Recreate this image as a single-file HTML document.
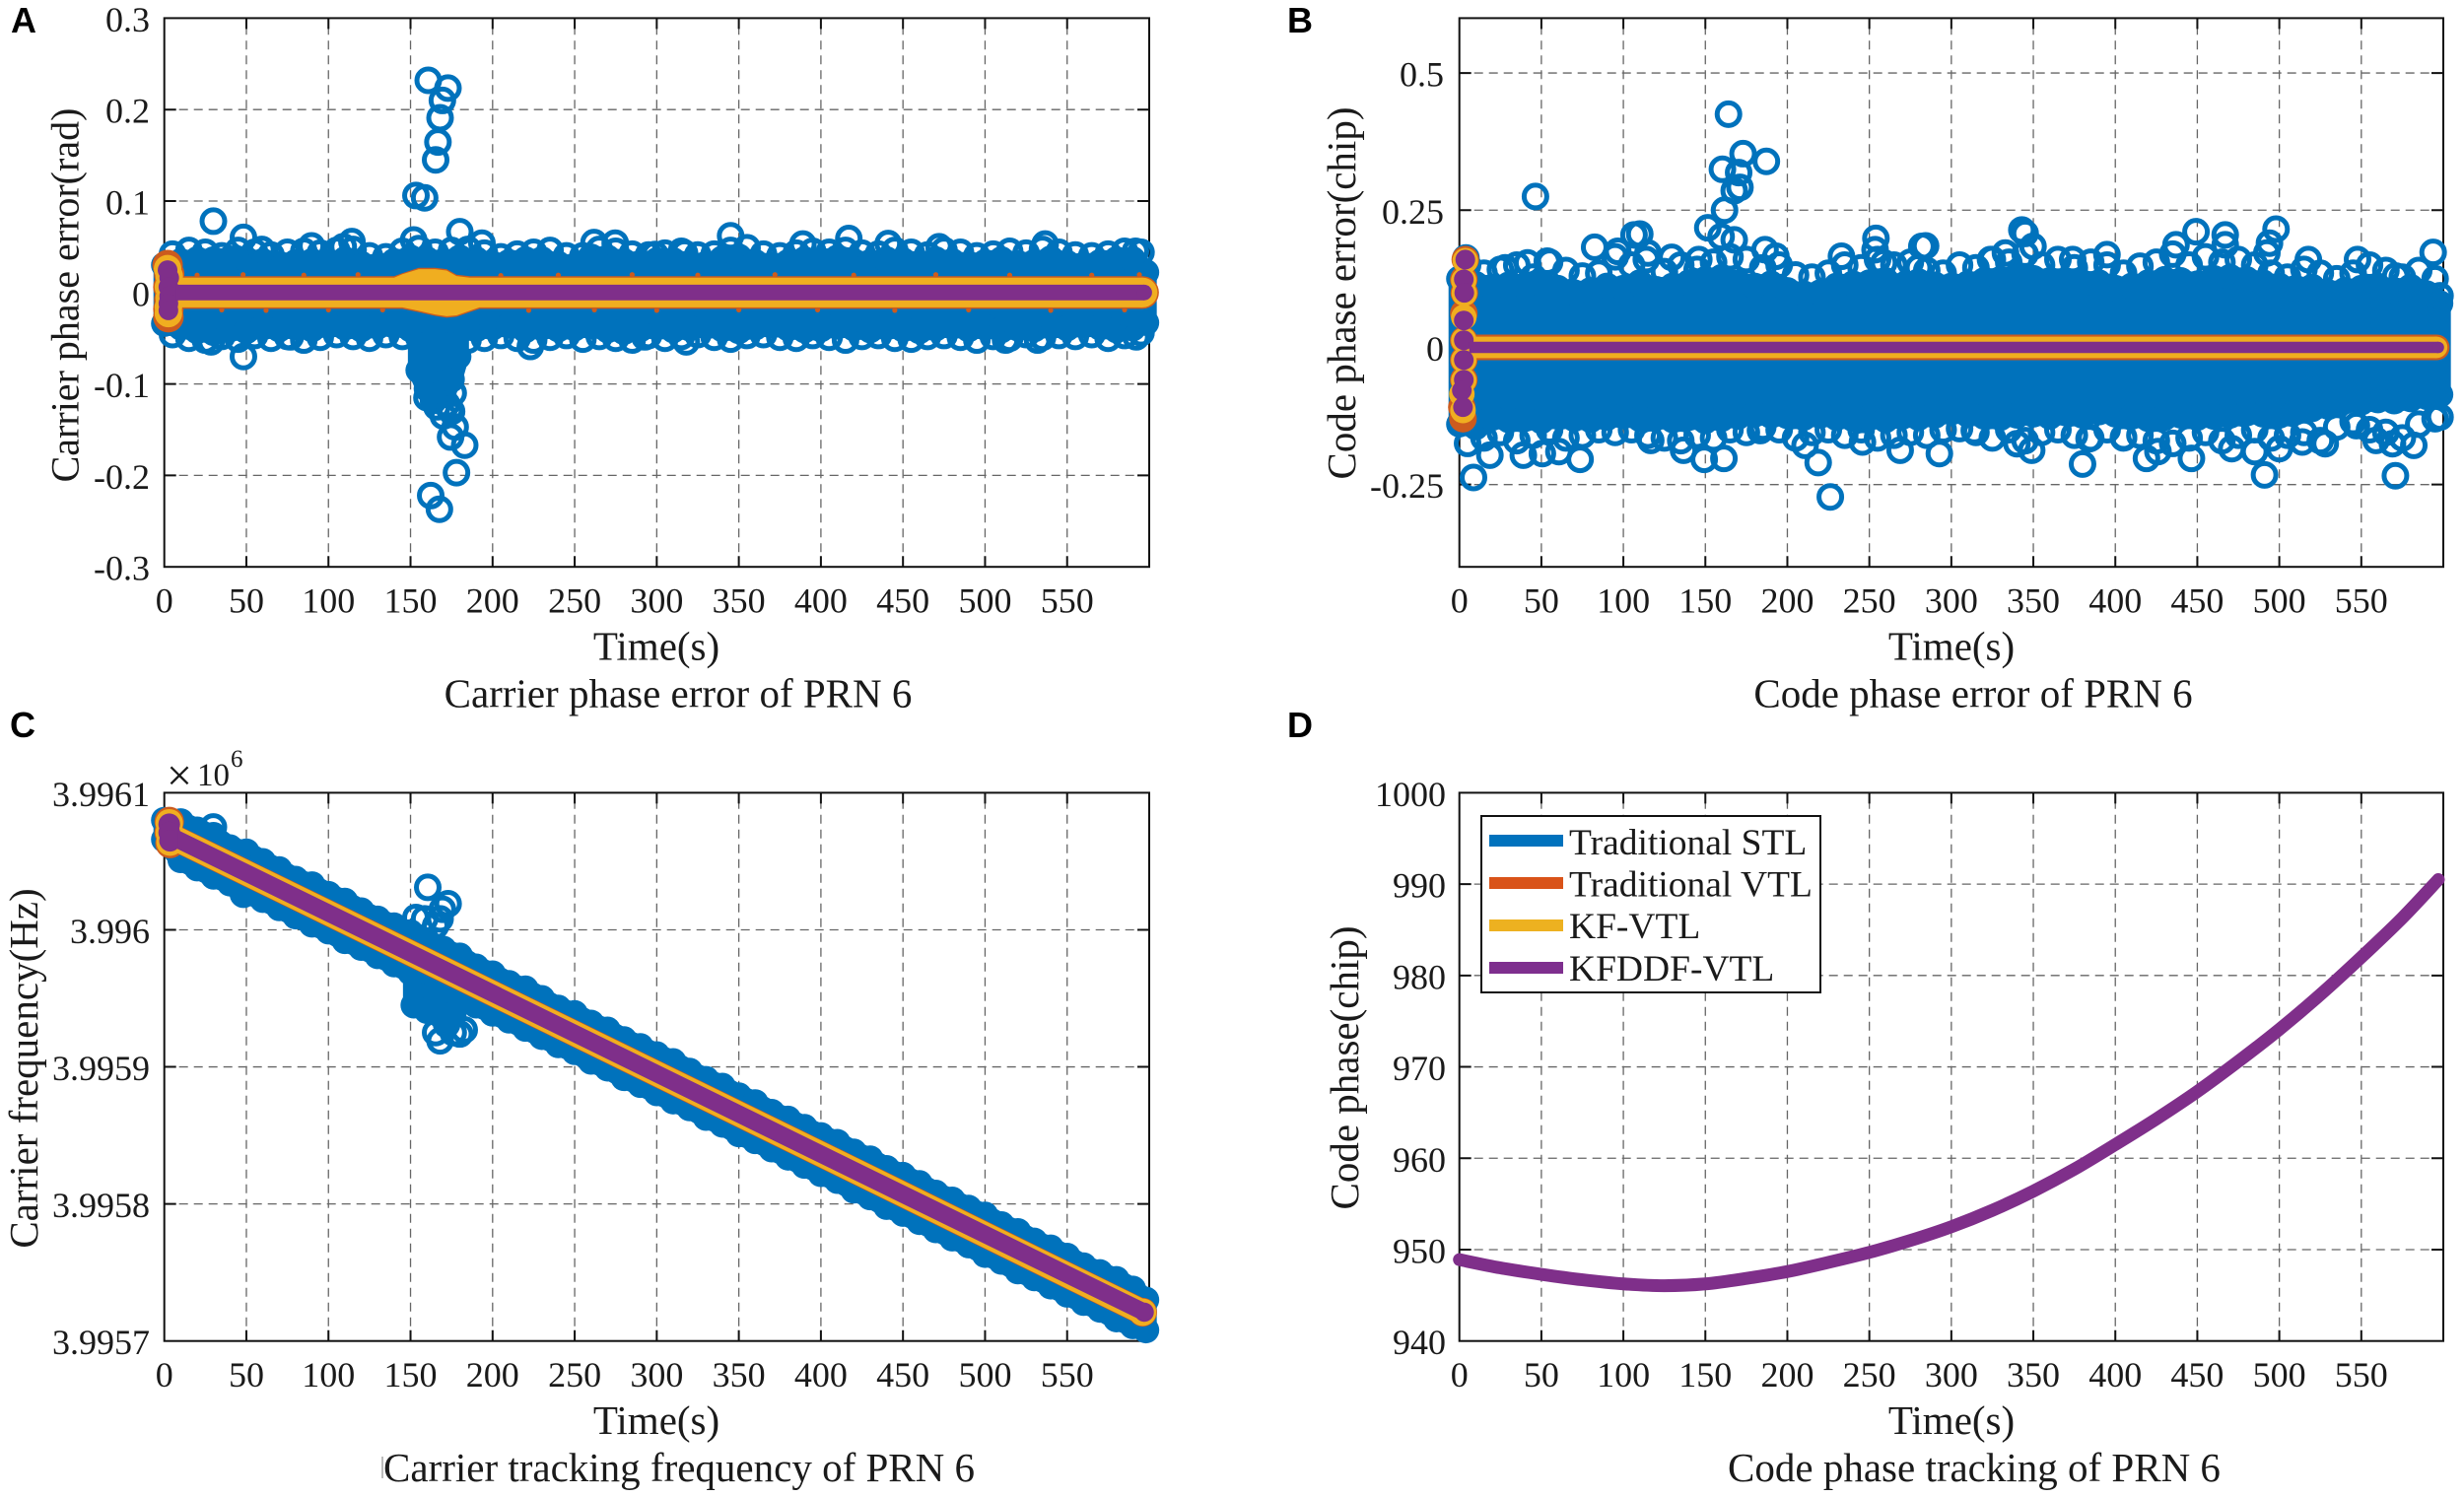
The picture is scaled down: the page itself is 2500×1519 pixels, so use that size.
<!DOCTYPE html>
<html lang="en">
<head>
<meta charset="utf-8">
<title>PRN 6 tracking results</title>
<style>
html,body{margin:0;padding:0;background:#fff;}
svg{display:block;}
text{font-family:"Liberation Serif",serif;fill:#1a1a1a;}
.tick{font-size:36px;}
.label{font-size:40px;}
.cap{font-size:41px;}
.letter{font-family:"Liberation Sans",sans-serif;font-weight:bold;font-size:36px;fill:#000;}
.legend-text{font-size:37.5px;}
</style>
</head>
<body>
<svg id="figure" xmlns="http://www.w3.org/2000/svg" width="2500" height="1519" viewBox="0 0 2500 1519">
  <rect x="0" y="0" width="2500" height="1519" fill="#ffffff"/>

  <text class="letter" x="11" y="33">A</text>
  <text class="letter" x="1306" y="33">B</text>
  <text class="letter" x="10" y="748">C</text>
  <text class="letter" x="1306" y="748">D</text>

  <g id="panel-a"></g>
  <g id="panel-b"></g>
  <g id="panel-c"></g>
  <g id="panel-d"></g>

  <text class="label" text-anchor="middle" transform="translate(79.5 299.5) rotate(-90)">Carrier phase error(rad)</text>
  <text class="cap" text-anchor="middle" x="666" y="669.5">Time(s)</text>
  <text class="cap" text-anchor="middle" x="688" y="717.5">Carrier phase error of PRN 6</text>

  <text class="label" text-anchor="middle" style="font-size:41px" transform="translate(1375 297.5) rotate(-90)">Code phase error(chip)</text>
  <text class="cap" text-anchor="middle" x="1980" y="669.5">Time(s)</text>
  <text class="cap" text-anchor="middle" x="2002" y="717.5">Code phase error of PRN 6</text>

  <text class="label" text-anchor="middle" style="font-size:41px" transform="translate(38 1084) rotate(-90)">Carrier frequency(Hz)</text>
  <text class="cap" text-anchor="middle" x="666" y="1455">Time(s)</text>
  <text class="cap" text-anchor="middle" x="689" y="1503">Carrier tracking frequency of PRN 6</text>
  <line x1="388" y1="1478" x2="388" y2="1500" stroke="#777" stroke-width="1"/>

  <text class="label" text-anchor="middle" style="font-size:41px" transform="translate(1378 1083.5) rotate(-90)">Code phase(chip)</text>
  <text class="cap" text-anchor="middle" x="1980" y="1455">Time(s)</text>
  <text class="cap" text-anchor="middle" x="2003" y="1503">Code phase tracking of PRN 6</text>

  <g>
    <text x="169" y="802" style="font-size:46px">×</text>
    <text x="200" y="797" style="font-size:33px">10</text>
    <text x="234" y="778" style="font-size:25px">6</text>
  </g>

  <g id="legend">
    <rect x="1503" y="828" width="344" height="179" fill="#fff" stroke="#111" stroke-width="2"/>
    <rect x="1511" y="847" width="75" height="12" fill="#0072BD"/>
    <text class="legend-text" x="1592" y="867">Traditional STL</text>
    <rect x="1511" y="890" width="75" height="12" fill="#D95319"/>
    <text class="legend-text" x="1592" y="909.5">Traditional VTL</text>
    <rect x="1511" y="933" width="75" height="12" fill="#EDB120"/>
    <text class="legend-text" x="1592" y="952">KF-VTL</text>
    <rect x="1511" y="976" width="75" height="12" fill="#7E2F8E"/>
    <text class="legend-text" x="1592" y="995">KFDDF-VTL</text>
  </g>
</svg>

<script>
// ---------- shared axis data ----------
const xTicks = [0,50,100,150,200,250,300,350,400,450,500,550];
const yTicksA = [-0.3,-0.2,-0.1,0,0.1,0.2,0.3];
const yLabelsA = ['-0.3','-0.2','-0.1','0','0.1','0.2','0.3'];
const yTicksB = [-0.25,0,0.25,0.5];
const yLabelsB = ['-0.25','0','0.25','0.5'];
const yTicksC = [3995700,3995800,3995900,3996000,3996100];
const yLabelsC = ['3.9957','3.9958','3.9959','3.996','3.9961'];
const yTicksD = [940,950,960,970,980,990,1000];
const yLabelsD = ['940','950','960','970','980','990','1000'];

// sample instants (s) for the dense Traditional STL marker cloud
const stlTimes = [0,10,20,30,40,50,60,70,80,90,100,110,120,130,140,150,160,170,180,190,200,210,220,230,240,250,260,270,280,290,300,310,320,330,340,350,360,370,380,390,400,410,420,430,440,450,460,470,480,490,500,510,520,530,540,550,560,570,580,590,598];
// sample instants (s) for the open-ring fringe around the dense cloud
const fringeTimes = [5,15,25,35,45,55,65,75,85,95,105,115,125,135,145,155,165,175,185,195,205,215,225,235,245,255,265,275,285,295,305,315,325,335,345,355,365,375,385,395,405,415,425,435,445,455,465,475,485,495,505,515,525,535,545,555,565,575,585,595];

// ---------- panel A: carrier phase error (rad) ----------
const stlUpperA = [.030,.034,.036,.036,.037,.036,.034,.031,.033,.034,
  .033,.036,.031,.029,.034,.038,.036,.034,.038,.036,
  .031,.033,.036,.036,.031,.029,.039,.038,.034,.032,
  .035,.035,.032,.031,.037,.039,.033,.030,.033,.036,
  .035,.038,.034,.033,.036,.035,.032,.036,.034,.031,
  .033,.036,.032,.033,.037,.032,.030,.033,.036,.036,.022];
const stlLowerA = [-.034,-.038,-.042,-.044,-.040,-.042,-.038,-.040,-.038,-.040,
  -.036,-.038,-.040,-.037,-.036,-.040,-.042,-.044,-.042,-.040,
  -.038,-.036,-.041,-.038,-.040,-.039,-.037,-.041,-.043,-.040,
  -.038,-.041,-.039,-.037,-.040,-.042,-.038,-.036,-.039,-.041,
  -.040,-.037,-.039,-.041,-.038,-.040,-.042,-.039,-.037,-.040,
  -.038,-.041,-.039,-.040,-.037,-.039,-.036,-.038,-.041,-.039,-.033];
const fringeUpperA = [.042,.046,.044,.040,.046,.044,.041,.044,.045,.043,
  .046,.047,.040,.039,.045,.048,.044,.046,.047,.043,
  .039,.042,.044,.046,.040,.040,.047,.045,.042,.041,
  .043,.045,.041,.042,.046,.049,.042,.040,.043,.045,
  .044,.046,.043,.042,.046,.044,.041,.046,.044,.040,
  .042,.045,.043,.047,.044,.041,.040,.042,.045,.044];
const fringeLowerA = [-.046,-.050,-.052,-.048,-.051,-.047,-.050,-.048,-.052,-.049,
  -.046,-.048,-.050,-.046,-.048,-.049,-.050,-.050,-.052,-.050,
  -.047,-.050,-.052,-.049,-.047,-.051,-.048,-.050,-.052,-.047,
  -.050,-.048,-.046,-.049,-.051,-.047,-.046,-.049,-.050,-.047,
  -.049,-.052,-.048,-.047,-.050,-.051,-.048,-.047,-.049,-.052,
  -.048,-.050,-.046,-.049,-.047,-.048,-.046,-.050,-.047,-.044];
const columnTimeA = [155,160,165,170,175,179];
const columnUpperA = [-.03,-.03,-.03,-.03,-.03,-.03];
const columnLowerA = [-.085,-.105,-.115,-.112,-.095,-.07];
const stlOutlierTimeA = [160.8,172.8,169.4,168,166.7,165.3,153.3,158.6,29.9,48.2,180,193.5,89.7,114.3,109,151.9,59.4,261.8,274.7,299,316.9,345,417,441,472,389,536.6,591.6,
  48.2,223,28.5,76.8,318,292.7,512.5,532,592,
  162.3,167.6,178,183,174.4,177.2,160,166,172,176,163,170,175,168,164,174];
const stlOutlierValueA = [.232,.2235,.21,.191,.1645,.145,.106,.1035,.078,.0603,.0665,.054,.051,.0557,.05,.0575,.047,.0546,.054,.0415,.043,.062,.059,.0535,.05,.053,.053,.045,
  -.07,-.059,-.054,-.0485,-.054,-.0485,-.052,-.052,-.0485,
  -.222,-.237,-.197,-.167,-.158,-.147,-.115,-.125,-.122,-.11,-.10,-.135,-.13,-.112,-.118,-.128];
const bandTimeA = [7,140,145,155,165,172,178,186,192,596];
const vtlUpperA = [.0178,.0178,.021,.027,.027,.0255,.0195,.0178,.0178,.0178];
const vtlLowerA = [-.0178,-.0178,-.0178,-.0215,-.0255,-.0275,-.0265,-.0215,-.0178,-.0178];
const kfUpperA = [.0162,.0162,.02,.0255,.0255,.024,.018,.0162,.0162,.0162];
const kfLowerA = [-.0162,-.0162,-.0162,-.02,-.024,-.026,-.025,-.02,-.0162,-.0162];
const kfddfBandTimeA = [7,150,300,450,597];
const kfddfUpperA = [.0085,.0085,.0085,.0085,.0085];
const kfddfLowerA = [-.0085,-.0085,-.0085,-.0085,-.0085];
const startTimeA = [2,3,2.5,3,2.5,2.5];
const vtlStartA = [.030,.020,.006,-.008,-.018,-.027];
const kfStartA = [.026,.018,.006,-.006,-.016,-.023];
const kfddfStartA = [.0245,.016,.006,-.004,-.012,-.0195];
const vtlSpotTimeA = [20,35,48,62,85,100,118,133,205,222,240,262,285,300,325,350,372,398,420,445,470,490,515,540,565,585,594];
const vtlSpotValueA = [.019,-.019,.0195,-.0195,.019,-.019,.0195,-.019,.0185,-.0195,.019,-.019,.0195,-.0195,.019,-.019,.0195,-.019,.019,-.0195,.0195,-.019,.019,-.0195,.019,-.019,.0195];

// ---------- panel B: code phase error (chip) ----------
const stlUpperB = [.125,.115,.110,.114,.112,.116,.108,.100,.104,.112,
  .108,.118,.106,.112,.118,.124,.128,.118,.112,.116,
  .104,.098,.100,.112,.116,.118,.122,.110,.120,.114,
  .112,.116,.122,.124,.130,.126,.122,.118,.116,.118,
  .108,.112,.118,.124,.122,.116,.126,.128,.124,.118,
  .112,.108,.110,.100,.104,.108,.112,.104,.110,.098,.08];
const stlLowerB = [-.140,-.145,-.128,-.132,-.130,-.134,-.126,-.130,-.132,-.128,
  -.125,-.130,-.128,-.132,-.128,-.134,-.130,-.126,-.122,-.124,
  -.125,-.128,-.124,-.128,-.130,-.128,-.132,-.126,-.128,-.124,
  -.118,-.122,-.126,-.128,-.124,-.122,-.126,-.120,-.124,-.118,
  -.122,-.126,-.130,-.128,-.124,-.128,-.126,-.124,-.120,-.122,
  -.124,-.118,-.112,-.108,-.098,-.100,-.096,-.098,-.094,-.090,-.086];
const fringeUpperB = [.150,.135,.142,.150,.128,.155,.140,.130,.135,.165,
  .150,.172,.138,.150,.142,.155,.165,.160,.145,.150,
  .132,.128,.135,.150,.145,.160,.150,.155,.140,.135,
  .150,.145,.160,.155,.170,.150,.160,.145,.155,.150,
  .135,.148,.155,.170,.150,.165,.155,.160,.150,.135,
  .128,.142,.135,.125,.135,.150,.140,.128,.140,.125];
const fringeLowerB = [-.175,-.165,-.155,-.170,-.160,-.150,-.165,-.160,-.150,-.155,
  -.150,-.160,-.165,-.170,-.160,-.165,-.150,-.155,-.145,-.150,
  -.165,-.155,-.150,-.160,-.150,-.165,-.160,-.155,-.160,-.150,
  -.148,-.155,-.165,-.150,-.170,-.155,-.150,-.160,-.165,-.150,
  -.165,-.160,-.170,-.175,-.165,-.155,-.170,-.160,-.150,-.165,
  -.160,-.155,-.170,-.145,-.135,-.150,-.155,-.165,-.140,-.130];
const stlOutlierTimeB = [164.1,173,187.2,160.4,170.3,171.1,167.6,161.7,151.5,46.4,110,106.5,82.5,96.6,114,129.5,146,159.6,167.6,186.4,193,233,254,253.5,282,284.3,258.8,280,28,41.6,53.6,4,
  343,345,323.9,333,349.8,374,394.9,437,449.2,467,467,498,494,492.4,517.7,547.7,593.8,571,598,
  380,491,570.8,446.4,349,340,384,419,426,582,485,471,500,528,569,598,559,514,314,405,547,
  226.2,218.8,8.6,149.3,161.3,73.6,18.6,39,50.6,60.7,136.7,210.8,268.8,245.8,292.7,116.7,183.6];
const stlOutlierValueB = [.425,.353,.339,.3245,.3185,.2915,.2856,.25,.218,.275,.2066,.205,.1825,.175,.16,.164,.16,.2017,.196,.178,.166,.166,.1987,.178,.184,.185,.154,.145,.145,.154,.157,.163,
  .214,.2077,.16,.172,.184,.16,.169,.187,.2107,.205,.187,.2155,.19,.172,.16,.16,.173,.13,.094,
  -.2127,-.2324,-.234,-.2024,-.1875,-.1755,-.1665,-.2024,-.19,-.1785,-.19,-.1845,-.1845,-.1755,-.1755,-.127,-.1695,-.1725,-.1515,-.1635,-.1426,
  -.2725,-.21,-.237,-.204,-.2024,-.204,-.1965,-.1965,-.1935,-.19,-.1875,-.1785,-.1875,-.1725,-.1935,-.1695,-.1516];
const bandTimeB = [6,150,300,450,596];
const vtlUpperB = [.0234,.0234,.0234,.0234,.0234];
const vtlLowerB = [-.0234,-.0234,-.0234,-.0234,-.0234];
const kfUpperB = [.0195,.0195,.0195,.0195,.0195];
const kfLowerB = [-.0195,-.0195,-.0195,-.0195,-.0195];
const kfddfBandTimeB = [6,150,300,450,597];
const kfddfUpperB = [.0104,.0104,.0104,.0104,.0104];
const kfddfLowerB = [-.0104,-.0104,-.0104,-.0104,-.0104];
const startTimeB = [3.6,2.7,3,2.7,2.7,2.7,2.7,1.5,2.2];
const vtlStartB = [.160,.124,.0995,.062,.013,-.023,-.059,-.109,-.13];
const kfStartB = [.158,.122,.0985,.055,.013,-.023,-.06,-.085,-.115];
const kfddfStartB = [.160,.124,.0995,.049,.013,-.023,-.059,-.0785,-.109];

// ---------- panel C: carrier tracking frequency (Hz) ----------
const stlUpperC = [3996080,3996079,3996073,3996069,3996060,3996057,3996050,3996044,3996037,3996033,
  3996026,3996021,3996014,3996008,3996003,3995998,3995992,3995986,3995981,3995973,
  3995968,3995961,3995957,3995950,3995943,3995939,3995932,3995927,3995920,3995915,
  3995909,3995904,3995897,3995891,3995886,3995879,3995874,3995867,3995862,3995856,
  3995850,3995845,3995838,3995833,3995826,3995821,3995815,3995808,3995803,3995797,
  3995792,3995785,3995780,3995773,3995768,3995762,3995755,3995750,3995745,3995738,3995730];
const stlLowerC = [3996066,3996051,3996045,3996039,3996034,3996027,3996022,3996016,3996010,3996004,
  3995999,3995992,3995987,3995981,3995975,3995969,3995963,3995957,3995952,3995945,
  3995939,3995934,3995928,3995922,3995916,3995911,3995904,3995899,3995892,3995887,
  3995881,3995875,3995870,3995863,3995858,3995851,3995846,3995840,3995834,3995828,
  3995822,3995817,3995810,3995805,3995798,3995793,3995787,3995781,3995775,3995770,
  3995763,3995758,3995751,3995746,3995740,3995734,3995728,3995723,3995716,3995711,3995708];
const columnTimeC = [152,160,168,176];
const columnUpperC = [3995975,3995970,3995965,3995960];
const columnLowerC = [3995945,3995941,3995938,3995938];
const stlOutlierTimeC = [160.5,172.9,169.4,168,153.3,165.3,158.6,180,29.9,48.2,165.3,168,182.7,176,180,172];
const stlOutlierValueC = [3996031,3996019,3996015,3996008,3996009,3996003,3996008,3995979,3996075,3996026,3995925,3995919,3995927,3995925,3995924,3995931];
const bandTimeC = [8,150,300,450,596];
const vtlUpperC = [3996076.5,3995993.5,3995905.5,3995817.5,3995731.5];
const vtlLowerC = [3996055.5,3995972.5,3995884.5,3995796.5,3995710.5];
const kfUpperC = [3996076,3995993,3995905,3995817,3995731];
const kfLowerC = [3996056,3995973,3995885,3995797,3995711];
const kfddfBandTimeC = [8,150,300,450,597];
const kfddfUpperC = [3996073,3995990,3995902,3995814,3995728];
const kfddfLowerC = [3996059,3995976,3995888,3995800,3995714];
const startTimeC = [3,3,3.5];
const vtlStartC = [3996079,3996071,3996063];
const kfStartC = [3996078,3996071,3996064];
const kfddfStartC = [3996077,3996071,3996065];

// ---------- panel D: code phase (chip) ----------
const codeTimes = [0,25,50,75,100,125,150,175,200,225,250,275,300,325,350,375,400,425,450,475,500,525,550,575,597];
const codePhaseSTL = [948.9,948,947.3,946.7,946.25,946.05,946.25,946.85,947.6,948.6,949.7,951,952.5,954.3,956.4,958.8,961.5,964.3,967.3,970.6,974.1,977.9,982,986.3,990.5];
const codePhaseVTL = [948.9,948,947.3,946.7,946.25,946.05,946.25,946.85,947.6,948.6,949.7,951,952.5,954.3,956.4,958.8,961.5,964.3,967.3,970.6,974.1,977.9,982,986.3,990.5];
const codePhaseKF = [948.9,948,947.3,946.7,946.25,946.05,946.25,946.85,947.6,948.6,949.7,951,952.5,954.3,956.4,958.8,961.5,964.3,967.3,970.6,974.1,977.9,982,986.3,990.5];
const codePhaseKFDDF = [948.9,948,947.3,946.7,946.25,946.05,946.25,946.85,947.6,948.6,949.7,951,952.5,954.3,956.4,958.8,961.5,964.3,967.3,970.6,974.1,977.9,982,986.3,990.5];

// ---------- drawing ----------
const NS = 'http://www.w3.org/2000/svg';
const COLORS = {stl:'#0072BC', vtl:'#CC5B1E', kf:'#F0AE20', kfddf:'#7F2F8A'};

function svgEl(tag, attrs, parent) {
  const el = document.createElementNS(NS, tag);
  for (const k in attrs) el.setAttribute(k, attrs[k]);
  parent.appendChild(el);
  return el;
}
function axes(frame) {
  return {
    x: t => frame.left + (t / 600) * (frame.right - frame.left),
    y: v => frame.bottom - ((v - frame.ymin) / (frame.ymax - frame.ymin)) * (frame.bottom - frame.top)
  };
}
function drawFrame(g, frame, prefix, yTicks, yLabels, labelRight) {
  const s = axes(frame);
  xTicks.forEach(t => {
    if (t === 0) return;
    const grid = svgEl('line', {x1:s.x(t), x2:s.x(t), y1:frame.bottom, y2:frame.top, stroke:'#666', 'stroke-width':1.3, 'stroke-dasharray':'9 6'}, g);
    
    
  });
  yTicks.forEach(v => {
    if (v === frame.ymin || v === frame.ymax) return;
    const grid = svgEl('line', {x1:frame.left, x2:frame.right, y1:s.y(v), y2:s.y(v), stroke:'#666', 'stroke-width':1.3, 'stroke-dasharray':'9 6'}, g);
    
    
  });
  xTicks.forEach(t => {
    if (t !== 0) {
      const d = `M${s.x(t)} ${frame.bottom}v-11M${s.x(t)} ${frame.top}v11`;
      const tick = svgEl('path', {d:d, stroke:'#111', 'stroke-width':2, fill:'none'}, g);
      
      
    }
    const label = svgEl('text', {x:s.x(t), y:frame.bottom + 46.5, 'text-anchor':'middle', class:'tick'}, g);
    label.textContent = String(t);
    
    
  });
  yTicks.forEach((v, i) => {
    if (v !== frame.ymin && v !== frame.ymax) {
      const d = `M${frame.left} ${s.y(v)}h12M${frame.right} ${s.y(v)}h-12`;
      const tick = svgEl('path', {d:d, stroke:'#111', 'stroke-width':2, fill:'none'}, g);
      
      
    }
    const label = svgEl('text', {x:labelRight, y:s.y(v) + 13.5, 'text-anchor':'end', class:'tick'}, g);
    label.textContent = yLabels[i];
    
    
  });
  const box = svgEl('rect', {x:frame.left, y:frame.top, width:frame.right - frame.left, height:frame.bottom - frame.top, fill:'none', stroke:'#111', 'stroke-width':2}, g);
  
  
}
function polygonPoints(s, times, upper, lower) {
  const pts = [];
  times.forEach((t, i) => pts.push(s.x(t) + ',' + s.y(upper[i])));
  for (let i = times.length - 1; i >= 0; i--) pts.push(s.x(times[i]) + ',' + s.y(lower[i]));
  return pts.join(' ');
}
function drawStlCloud(g, frame, prefix, times, upper, lower) {
  const s = axes(frame);
  const fill = svgEl('polygon', {points:polygonPoints(s, times, upper, lower), fill:COLORS.stl, stroke:COLORS.stl, 'stroke-width':22, 'stroke-linejoin':'round'}, g);
  
  
  times.forEach((t, i) => {
    const top = svgEl('circle', {cx:s.x(t), cy:s.y(upper[i]), r:13.5, fill:COLORS.stl}, g);
    
    
    const bottom = svgEl('circle', {cx:s.x(t), cy:s.y(lower[i]), r:13.5, fill:COLORS.stl}, g);
    
    
  });
}
function drawRings(g, frame, prefix, times, values) {
  const s = axes(frame);
  times.forEach((t, i) => {
    const ring = svgEl('circle', {cx:s.x(t), cy:s.y(values[i]), r:11.5, fill:'none', stroke:COLORS.stl, 'stroke-width':5}, g);
    
    
  });
}
function drawBand(g, frame, prefix, series, times, upper, lower) {
  const s = axes(frame);
  const band = svgEl('polygon', {points:polygonPoints(s, times, upper, lower), fill:COLORS[series]}, g);
  
  
  const last = times.length - 1;
  const cap = svgEl('circle', {cx:s.x(times[last]), cy:(s.y(upper[last]) + s.y(lower[last])) / 2, r:Math.abs(s.y(upper[last]) - s.y(lower[last])) / 2, fill:COLORS[series]}, g);
  
  
}
function drawBlob(g, frame, prefix, series, times, values, r) {
  const s = axes(frame);
  times.forEach((t, i) => {
    const dot = svgEl('circle', {cx:s.x(t), cy:s.y(values[i]), r:r, fill:COLORS[series]}, g);
    
    
  });
}
function drawSpots(g, frame, prefix, series, times, values) {
  const s = axes(frame);
  times.forEach((t, i) => {
    const dot = svgEl('circle', {cx:s.x(t), cy:s.y(values[i]), r:2.6, fill:COLORS[series]}, g);
    
    
  });
}
function drawLine(g, frame, prefix, series, times, values, width) {
  const s = axes(frame);
  const px = times.map(t => s.x(t));
  const py = values.map(v => s.y(v));
  let d = 'M' + px[0] + ' ' + py[0];
  for (let i = 0; i < px.length - 1; i++) {
    const a = Math.max(i - 1, 0);
    const b = Math.min(i + 2, px.length - 1);
    const c1x = px[i] + (px[i + 1] - px[a]) / 6;
    const c1y = py[i] + (py[i + 1] - py[a]) / 6;
    const c2x = px[i + 1] - (px[b] - px[i]) / 6;
    const c2y = py[i + 1] - (py[b] - py[i]) / 6;
    d += 'C' + c1x + ' ' + c1y + ' ' + c2x + ' ' + c2y + ' ' + px[i + 1] + ' ' + py[i + 1];
  }
  const line = svgEl('path', {d:d, fill:'none', stroke:COLORS[series], 'stroke-width':width, 'stroke-linejoin':'round', 'stroke-linecap':'round'}, g);
  
  
}

const frameA = {left:166.7, right:1166, top:18.4, bottom:575.2, ymin:-0.3, ymax:0.3};
const frameB = {left:1480.7, right:2479, top:18.4, bottom:575.2, ymin:-0.4, ymax:0.6};
const frameC = {left:166.7, right:1166, top:804.4, bottom:1360.7, ymin:3995700, ymax:3996100};
const frameD = {left:1480.7, right:2479, top:804.4, bottom:1360.7, ymin:940, ymax:1000};

const gA = document.getElementById('panel-a');
drawFrame(gA, frameA, 'a', yTicksA, yLabelsA, 152);
drawRings(gA, frameA, 'a', fringeTimes, fringeUpperA);
drawRings(gA, frameA, 'a', fringeTimes, fringeLowerA);
drawStlCloud(gA, frameA, 'a', stlTimes, stlUpperA, stlLowerA);
drawStlCloud(gA, frameA, 'a', columnTimeA, columnUpperA, columnLowerA);
drawRings(gA, frameA, 'a', stlOutlierTimeA, stlOutlierValueA);
drawBlob(gA, frameA, 'a', 'vtl', startTimeA, vtlStartA, 15.5);
drawBand(gA, frameA, 'a', 'vtl', bandTimeA, vtlUpperA, vtlLowerA);
drawSpots(gA, frameA, 'a', 'vtl', vtlSpotTimeA, vtlSpotValueA);
drawBlob(gA, frameA, 'a', 'kf', startTimeA, kfStartA, 14);
drawBand(gA, frameA, 'a', 'kf', bandTimeA, kfUpperA, kfLowerA);
drawBlob(gA, frameA, 'a', 'kfddf', startTimeA, kfddfStartA, 10);
drawBand(gA, frameA, 'a', 'kfddf', kfddfBandTimeA, kfddfUpperA, kfddfLowerA);

const gB = document.getElementById('panel-b');
drawFrame(gB, frameB, 'b', yTicksB, yLabelsB, 1465);
drawRings(gB, frameB, 'b', fringeTimes, fringeUpperB);
drawRings(gB, frameB, 'b', fringeTimes, fringeLowerB);
drawStlCloud(gB, frameB, 'b', stlTimes, stlUpperB, stlLowerB);
drawRings(gB, frameB, 'b', stlOutlierTimeB, stlOutlierValueB);
drawBlob(gB, frameB, 'b', 'vtl', startTimeB, vtlStartB, 14);
drawBand(gB, frameB, 'b', 'vtl', bandTimeB, vtlUpperB, vtlLowerB);
drawBlob(gB, frameB, 'b', 'kf', startTimeB, kfStartB, 13);
drawBand(gB, frameB, 'b', 'kf', bandTimeB, kfUpperB, kfLowerB);
drawBlob(gB, frameB, 'b', 'kfddf', startTimeB, kfddfStartB, 10);
drawBand(gB, frameB, 'b', 'kfddf', kfddfBandTimeB, kfddfUpperB, kfddfLowerB);

const gC = document.getElementById('panel-c');
drawFrame(gC, frameC, 'c', yTicksC, yLabelsC, 152);
drawStlCloud(gC, frameC, 'c', stlTimes, stlUpperC, stlLowerC);
drawStlCloud(gC, frameC, 'c', columnTimeC, columnUpperC, columnLowerC);
drawRings(gC, frameC, 'c', stlOutlierTimeC, stlOutlierValueC);
drawBlob(gC, frameC, 'c', 'vtl', startTimeC, vtlStartC, 15);
drawBand(gC, frameC, 'c', 'vtl', bandTimeC, vtlUpperC, vtlLowerC);
drawBlob(gC, frameC, 'c', 'kf', startTimeC, kfStartC, 14);
drawBand(gC, frameC, 'c', 'kf', bandTimeC, kfUpperC, kfLowerC);
drawBlob(gC, frameC, 'c', 'kfddf', startTimeC, kfddfStartC, 11);
drawBand(gC, frameC, 'c', 'kfddf', kfddfBandTimeC, kfddfUpperC, kfddfLowerC);

const gD = document.getElementById('panel-d');
drawFrame(gD, frameD, 'd', yTicksD, yLabelsD, 1467);
drawLine(gD, frameD, 'd', 'stl', codeTimes, codePhaseSTL, 9);
drawLine(gD, frameD, 'd', 'vtl', codeTimes, codePhaseVTL, 9);
drawLine(gD, frameD, 'd', 'kf', codeTimes, codePhaseKF, 9);
drawLine(gD, frameD, 'd', 'kfddf', codeTimes, codePhaseKFDDF, 13);

// keep the legend above the panel D grid
document.getElementById('figure').appendChild(document.getElementById('legend'));
</script>
</body>
</html>
